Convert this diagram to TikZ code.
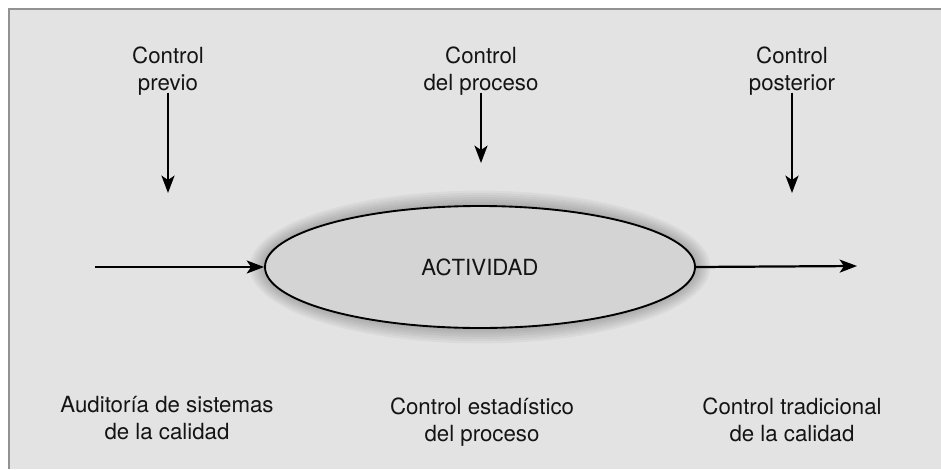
\documentclass[tikz,border=0pt]{standalone}
\usepackage{fontspec}
\setmainfont{TeX Gyre Heros}
\usetikzlibrary{arrows.meta,positioning,shapes.geometric,backgrounds}
\definecolor{ctlpanel}{RGB}{227,227,227}
\definecolor{ctlframe}{RGB}{146,146,146}
\definecolor{ctlfill}{RGB}{212,212,212}
\definecolor{ctltext}{RGB}{20,20,20}
\tikzset{
  lbl/.style  = {font=\fontsize{19}{23.5}\selectfont, text=ctltext,
                 align=center, inner sep=0pt},
  actv/.style = {ellipse, draw=black, line width=1.6pt, fill=ctlfill,
                 minimum width=12.9cm, minimum height=3.66cm, inner sep=0pt,
                 font=\fontsize{19}{23.5}\selectfont, text=ctltext},
  ar/.style   = {-{Stealth[length=5.2mm, width=3.9mm, inset=1.3mm]},
                 line width=1.9pt, draw=black},
}

\begin{document}
\begin{tikzpicture}[x=0.03cm, y=-0.03cm]
    % fixed frame, same proportions as the page
    \useasboundingbox (0,0) rectangle (941,469);
    \fill[white] (0,0) rectangle (941,469);
    \fill[ctlpanel] (9,9) rectangle (941,469);
    \draw[ctlframe, line width=2.4pt] (9,469) -- (9,9) -- (941,9);

    % soft glow round the activity
    \begin{scope}
      \foreach \g in {1,...,7}{
        \fill[black, opacity=0.035]
             (480,267) ellipse ({215+2.2*\g} and {61+2.2*\g});
      }
    \end{scope}

    \node[actv] (act) at (480,267) {ACTIVIDAD};

    % the three moments of control
    \node[lbl] (prev) at (168,71)  {Control\\previo};
    \node[lbl] (proc) at (481,71)  {Control\\del proceso};
    \node[lbl] (post) at (792,71)  {Control\\posterior};

    \coordinate (prevtip) at (168,193);
    \coordinate (proctip) at (481,163);
    \coordinate (posttip) at (792,193);
    \coordinate (input)   at (95,267);
    \coordinate (output)  at (857,266);

    \draw[ar] (prev.south) ++(0,-3) coordinate (prevtop) -- (prevtip);
    \draw[ar] (proc.south) ++(0,-3) coordinate (proctop) -- (proctip);
    \draw[ar] (post.south) ++(0,-3) coordinate (posttop) -- (posttip);

    \draw[ar] (input) -- (act.west);
    \draw[ar] (act.east) -- (output);

    % what each moment is called
    \node[lbl] (audit) at (167,418) {Auditoría de sistemas\\de la calidad};
    \node[lbl] (stat)  at (482,422) {Control estadístico\\del proceso};
    \node[lbl] (trad)  at (792,420) {Control tradicional\\de la calidad};
  \end{tikzpicture}
\end{document}
